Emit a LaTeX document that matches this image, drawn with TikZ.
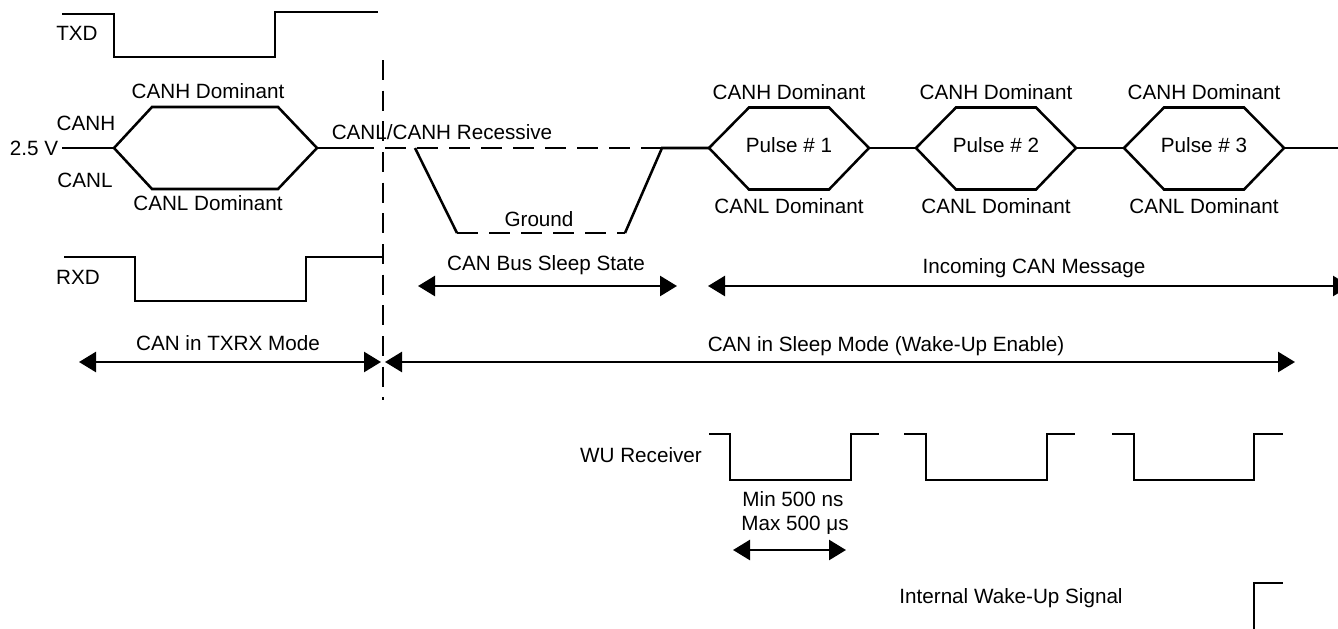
\documentclass[tikz,border=0pt]{standalone}
\usepackage{fontspec}
\setmainfont{Liberation Sans}
\usetikzlibrary{arrows.meta}
\begin{document}
\begin{tikzpicture}[x=0.75pt,y=-0.75pt,
  wave/.style={line width=1.9pt,line join=miter},
  dsh/.style={wave,dash pattern=on 16pt off 8pt},
  vdsh/.style={wave,dash pattern=on 15pt off 8pt},
  dimarrow/.style={line width=1.9pt,{Triangle[length=12.75pt,width=15pt]}-{Triangle[length=12.75pt,width=15pt]}},
  lbl/.style={inner sep=0pt,text height=11.1pt,text depth=0pt,font=\fontsize{15.5}{18}\selectfont}]
\useasboundingbox (0,0) rectangle (1338,628);

% ---------- labels ----------
\node[lbl] (txd) at (77,33) {TXD};
\node[lbl] (rxd) at (78,277) {RXD};
\node[lbl] (canh) at (86,123) {CANH};
\node[lbl] (canl) at (85,180) {CANL};
\node[lbl] (v25) at (34,148) {2.5 V};
\node[lbl] (hd0) at (208,91) {CANH Dominant};
\node[lbl] (ld0) at (208,203) {CANL Dominant};
\node[lbl] (rec) at (442,132) {CANL/CANH Recessive};
\node[lbl] (gnd) at (539,219) {Ground};
\node[lbl] (bss) at (546,263) {CAN Bus Sleep State};
\node[lbl] (inc) at (1034,266) {Incoming CAN Message};
\node[lbl] (txrx) at (228,343) {CAN in TXRX Mode};
\node[lbl] (slp) at (886,344) {CAN in Sleep Mode (Wake-Up Enable)};
\node[lbl] (wur) at (641,455) {WU Receiver};
\node[lbl] (min) at (793,499) {Min 500 ns};
\node[lbl] (max) at (795,523) {Max 500 μs};
\node[lbl] (iws) at (1011,596) {Internal Wake-Up Signal};

% ---------- TXD / RXD ----------
\draw[wave] (62,14) -- (114,14) -- (114,57) -- (275,57) -- (275,12) -- (378,12);
\draw[wave] (64,257) -- (135,257) -- (135,301) -- (306,301) -- (306,257) -- (383,257);

% ---------- mode boundary ----------
\coordinate (b1) at (383,60);
\coordinate (b2) at (383,400);
\draw[vdsh] (b1) -- (b2);

% ---------- CAN bus ----------
\draw[wave] (62,148) -- (114,148);
\draw[wave] (114,148) -- (152,107) -- (278,107) -- (317,148) -- (278,189) -- (152,189) -- cycle;
\draw[wave] (317,148) -- (353,148);
\draw[dsh] (353,148) -- (662,148);
\draw[wave] (415,148) -- (457,233);
\draw[dsh] (457,233) -- (625,233);
\draw[wave] (625,233) -- (662,148) -- (709,148);

\foreach \cx/\k in {789/1,996/2,1204/3}{
  \draw[wave] (\cx-80,148) -- (\cx-40,107.5) -- (\cx+40,107.5) -- (\cx+80,148)
     -- (\cx+40,189.5) -- (\cx-40,189.5) -- cycle;
  \node[lbl] (hd\k) at (\cx,92) {CANH Dominant};
  \node[lbl] (p\k) at (\cx,145) {Pulse \# \k};
  \node[lbl] (ld\k) at (\cx,206) {CANL Dominant};
}
\draw[wave] (869,148) -- (916,148);
\draw[wave] (1076,148) -- (1124,148);
\draw[wave] (1284,148) -- (1345,148);

% ---------- dimension arrows ----------
\coordinate (t1) at (79,362);   \coordinate (t2) at (381,362);
\coordinate (s1) at (385,362);  \coordinate (s2) at (1295,362);
\coordinate (c1) at (418,286);  \coordinate (c2) at (677,286);
\coordinate (i1) at (708,286);  \coordinate (i2) at (1350,286);
\coordinate (w1) at (733,550);  \coordinate (w2) at (846,550);
\draw[dimarrow] (t1) -- (t2);
\draw[dimarrow] (s1) -- (s2);
\draw[dimarrow] (c1) -- (c2);
\draw[dimarrow] (i1) -- (i2);
\draw[dimarrow] (w1) -- (w2);

% ---------- WU receiver ----------
\draw[wave] (709,434) -- (730,434) -- (730,480) -- (851,480) -- (851,434) -- (879,434);
\draw[wave] (904,434) -- (926,434) -- (926,480) -- (1047,480) -- (1047,434) -- (1075,434);
\draw[wave] (1112,434) -- (1134,434) -- (1134,480) -- (1254,480) -- (1254,434) -- (1283,434);

% ---------- internal wake-up ----------
\draw[wave] (1254,640) -- (1254,583) -- (1283,583);
\end{tikzpicture}
\end{document}
